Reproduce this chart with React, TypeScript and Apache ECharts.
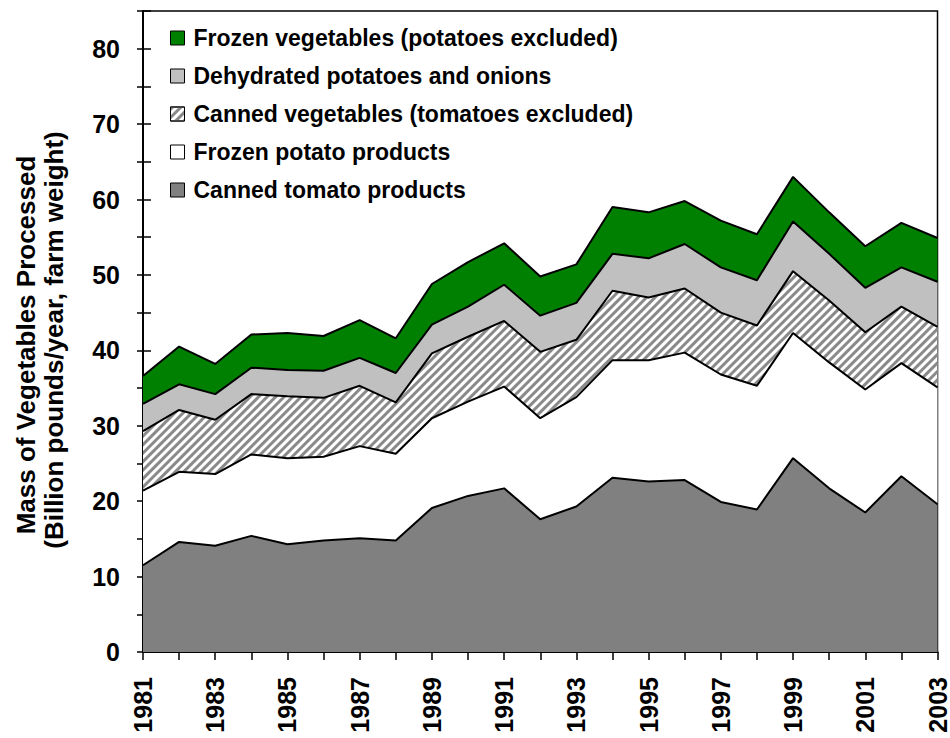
import React, { useEffect, useRef } from "react";
import * as echarts from "echarts";

const years = ["1981","1982","1983","1984","1985","1986","1987","1988","1989","1990","1991","1992","1993","1994","1995","1996","1997","1998","1999","2000","2001","2002","2003"];
const cannedTomato = [11.5,14.6,14.1,15.4,14.3,14.8,15.1,14.8,19.1,20.7,21.7,17.6,19.3,23.1,22.6,22.8,19.9,18.9,25.7,21.7,18.5,23.3,19.6];
const frozenPotato = [9.9,9.3,9.5,10.8,11.4,11.1,12.2,11.5,11.9,12.5,13.5,13.4,14.5,15.6,16.1,16.9,16.9,16.4,16.6,16.7,16.3,15.0,15.5];
const cannedVeg = [7.9,8.2,7.2,8.0,8.2,7.8,8.0,6.8,8.6,8.6,8.7,8.8,7.6,9.2,8.3,8.5,8.2,8.0,8.2,8.2,7.6,7.5,8.0];
const dehydrated = [3.6,3.4,3.4,3.5,3.5,3.6,3.7,3.9,3.8,4.0,4.8,4.8,4.9,4.9,5.2,5.9,6.0,6.0,6.6,6.2,5.9,5.2,6.0];
const frozenVeg = [3.7,5.0,4.0,4.4,4.9,4.6,5.0,4.6,5.4,5.9,5.5,5.2,5.1,6.2,6.1,5.7,6.2,6.1,5.9,5.5,5.5,5.9,5.8];

const names = {
  tomato: "Canned tomato products",
  potato: "Frozen potato products",
  veg: "Canned vegetables (tomatoes excluded)",
  dehyd: "Dehydrated potatoes and onions",
  frozen: "Frozen vegetables (potatoes excluded)",
};
const legendOrder = [names.frozen, names.dehyd, names.veg, names.potato, names.tomato];
const titleLine1 = "Mass of Vegetables Processed";
const titleLine2 = "(Billion pounds/year, farm weight)";

const FONT = "'Liberation Sans', Arial, sans-serif";

export default function App() {
  const ref = useRef<HTMLDivElement>(null);
  useEffect(() => {
    if (!ref.current) return;
    const chart = echarts.init(ref.current, null, { renderer: "svg" });
    const mk = (name: string, data: number[], color: string, extra: any = {}) => ({
      name,
      type: "line",
      stack: "total",
      data,
      symbol: "none",
      lineStyle: { color: "#000", width: 2 },
      itemStyle: { color, ...(extra.itemStyle || {}) },
      areaStyle: { color, opacity: 1 },
    });
    chart.setOption({
      animation: false,
      textStyle: { fontFamily: FONT },
      grid: { left: 143, right: 11, top: 11, bottom: 86, show: true, borderColor: "#000", borderWidth: 1.5 },
      legend: {
        orient: "vertical",
        left: 170,
        top: 26,
        padding: 0,
        itemWidth: 14,
        itemHeight: 14,
        itemGap: 14,
        icon: "rect",
        data: legendOrder,
        selectedMode: false,
        itemStyle: { borderColor: "#000", borderWidth: 1 },
        textStyle: { fontSize: 23, fontWeight: "bold", color: "#000", fontFamily: FONT, lineHeight: 24, padding: [0, 0, 0, 4] },
      },
      xAxis: {
        type: "category",
        data: years,
        boundaryGap: false,
        axisLine: { lineStyle: { color: "#000", width: 2 } },
        axisTick: { show: true, interval: 0, length: 8, lineStyle: { color: "#000", width: 1.5 } },
        axisLabel: { interval: 1, rotate: 90, margin: 25, fontSize: 25, fontWeight: "bold", color: "#000", fontFamily: FONT },
        splitLine: { show: false },
      },
      yAxis: [
        {
          type: "value",
          min: 0,
          max: 85,
          interval: 5,
          axisLine: { show: true, lineStyle: { color: "#000", width: 2 } },
          axisTick: { show: true, length: 6, lineStyle: { color: "#000", width: 1.5 } },
          axisLabel: {
            margin: 23,
            fontSize: 25,
            fontWeight: "bold",
            color: "#000",
            fontFamily: FONT,
            formatter: (v: number) => (v % 10 === 0 ? String(v) : ""),
          },
          splitLine: { show: false },
        },
        {
          type: "value",
          position: "left",
          min: 0,
          max: 85,
          interval: 5,
          axisLine: { show: false },
          axisTick: { show: true, inside: true, length: 8, lineStyle: { color: "#000", width: 1.5 } },
          axisLabel: { show: false },
          splitLine: { show: false },
        },
      ],
      series: [
        mk(names.tomato, cannedTomato, "#808080"),
        mk(names.potato, frozenPotato, "#ffffff"),
        mk(names.veg, cannedVeg, "#ffffff", {
          itemStyle: {
            decal: {
              symbol: "rect",
              color: "#8a8a8a",
              dashArrayX: [1, 0],
              dashArrayY: [3, 3],
              rotation: -Math.PI / 4,
            },
          },
        }),
        mk(names.dehyd, dehydrated, "#c0c0c0"),
        mk(names.frozen, frozenVeg, "#008000"),
      ],
      graphic: [
        {
          type: "text",
          x: 26,
          y: 345,
          rotation: Math.PI / 2,
          style: { text: titleLine1, fontSize: 26, fontWeight: "bold", fontFamily: FONT, fill: "#000", align: "center", verticalAlign: "middle" },
        },
        {
          type: "text",
          x: 54,
          y: 340,
          rotation: Math.PI / 2,
          style: { text: titleLine2, fontSize: 26, fontWeight: "bold", fontFamily: FONT, fill: "#000", align: "center", verticalAlign: "middle" },
        },
      ],
    });
    return () => chart.dispose();
  }, []);
  return <div ref={ref} style={{ position: "fixed", left: 0, top: 0, width: 950, height: 738, background: "#fff" }} />;
}
